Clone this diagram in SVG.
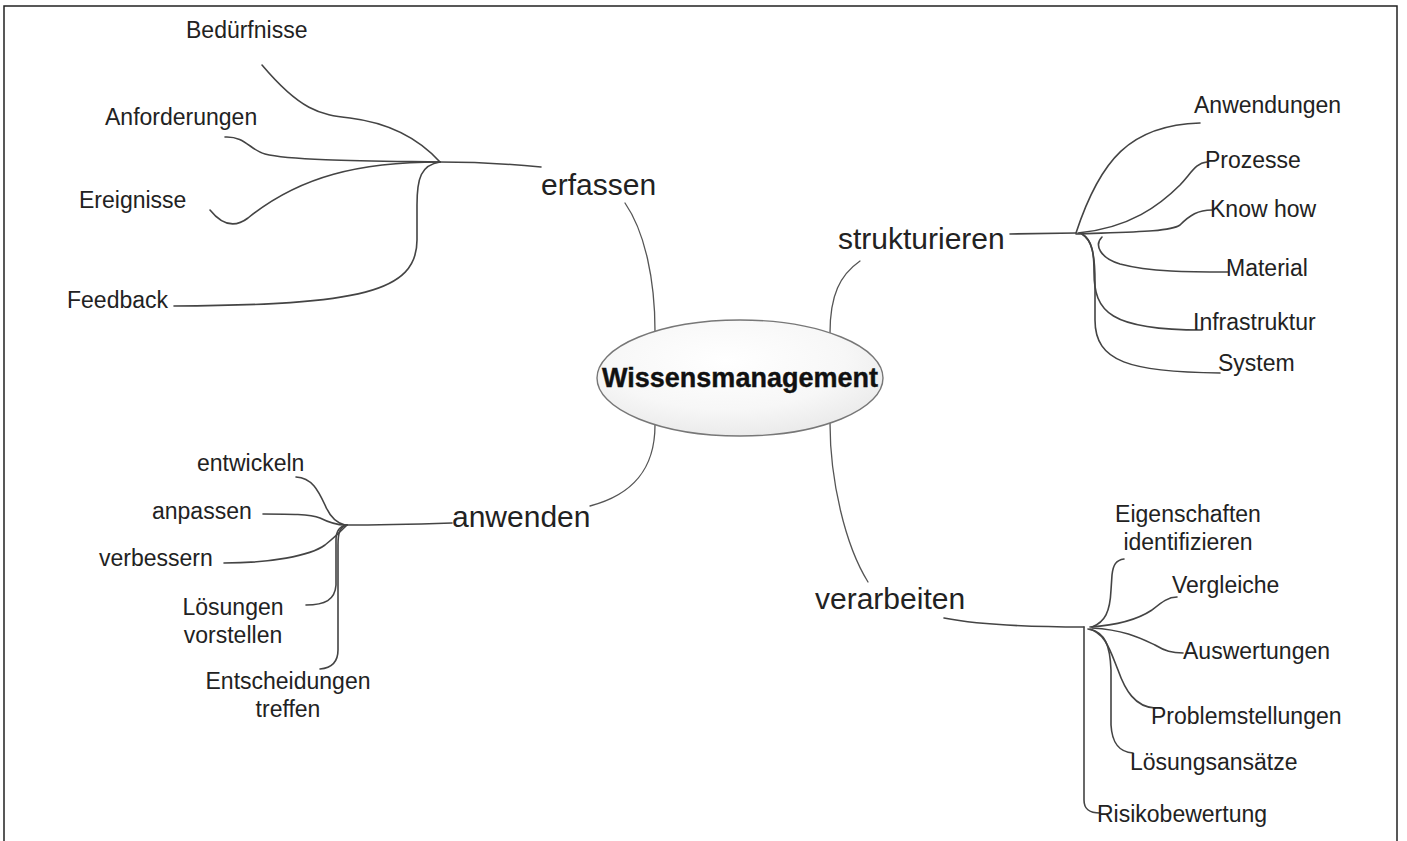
<svg xmlns="http://www.w3.org/2000/svg" width="1407" height="841" viewBox="0 0 1407 841">
<style>
text{font-family:"Liberation Sans",Arial,sans-serif;fill:#222}
.lbl{font-size:23px}
.br{font-size:30px}
.ctr{font-size:27px;font-weight:bold;fill:#111}
.c{fill:none;stroke:#444;stroke-width:1.6;stroke-linecap:round}
.m{fill:none;stroke:#555;stroke-width:1.3;stroke-linecap:round}
</style>
<defs>
<radialGradient id="eg" cx="0.45" cy="0.35" r="0.7">
<stop offset="0" stop-color="#ffffff"/>
<stop offset="0.6" stop-color="#f7f7f7"/>
<stop offset="1" stop-color="#e8e8e8"/>
</radialGradient>
</defs>
<rect width="1407" height="841" fill="#fff"/>
<path d="M4,841 L4,6 L1397,6 L1397,841" fill="none" stroke="#222" stroke-width="1.5"/>

<g id="connectors">
<path class="m" d="M625,203 C645,232 655,280 655,331"/>
<path class="m" d="M860,261 C840,275 830,295 830,333"/>
<path class="m" d="M590,506 C632,495 655,470 655,425"/>
<path class="m" d="M830,423 C830,480 845,545 868,582"/>
<path class="c" d="M541,167 C510,164 480,162 440,162"/>
<path class="c" d="M262,65 C300,110 320,115 350,118 C390,123 420,140 440,162"/>
<path class="c" d="M225,137 C245,136 250,150 265,154 C292,161 380,161 440,162"/>
<path class="c" d="M210,210 C222,225 235,228 248,218 C300,176 360,162 440,162"/>
<path class="c" d="M440,162 C421,165 417,178 417,205 L417,240 C417,292 360,305 174,306"/>
<path class="c" d="M1010,234 L1076,233"/>
<path class="c" d="M1076,233 C1100,160 1130,125 1200,123"/>
<path class="c" d="M1078,233 C1130,228 1160,205 1180,185 C1192,172 1196,163 1207,162"/>
<path class="c" d="M1076,234 C1130,232 1170,232 1180,225 C1190,215 1198,210 1212,210"/>
<path class="c" d="M1102,237 C1094,245 1100,258 1120,264 C1150,272 1190,272 1228,272"/>
<path class="c" d="M1082,234 C1092,240 1094,252 1094,272 C1094,312 1110,330 1202,330"/>
<path class="c" d="M1082,234 C1092,240 1095,255 1095,282 L1095,320 C1095,362 1130,372 1220,373"/>
<path class="c" d="M452,523 C420,524 370,525 345,525"/>
<path class="c" d="M296,477 C312,478 318,490 325,505 C330,517 336,523 345,525"/>
<path class="c" d="M263,514 C290,514 310,514 320,518 C330,523 338,525 345,525"/>
<path class="c" d="M224,563 C270,563 310,556 325,545 C335,537 342,530 347,525"/>
<path class="c" d="M306,605 C325,605 335,600 336,585 L336,540 C336,530 340,526 347,525"/>
<path class="c" d="M347,525 C340,527 338,532 338,545 L338,650 C338,662 332,668 320,669"/>
<path class="c" d="M944,618 C980,625 1030,627 1084,627"/>
<path class="c" d="M1092,627 C1105,622 1110,612 1111,590 L1112,575 C1113,565 1116,560 1124,559"/>
<path class="c" d="M1090,627 C1120,625 1140,618 1152,610 C1162,602 1168,597 1177,597"/>
<path class="c" d="M1092,628 C1125,630 1140,638 1155,645 C1165,651 1172,653 1183,653"/>
<path class="c" d="M1088,629 C1105,632 1110,650 1118,670 C1125,690 1135,707 1155,708"/>
<path class="c" d="M1090,629 C1105,633 1110,645 1111,670 L1111,725 C1112,742 1118,752 1133,753"/>
<path class="c" d="M1084,627 L1084,800 C1084,810 1090,813 1100,813"/>
</g>

<g id="center">
<ellipse cx="740" cy="378" rx="143" ry="58" fill="url(#eg)" stroke="#777" stroke-width="1.4"/>
<text class="ctr" x="740" y="387" text-anchor="middle" stroke="#111" stroke-width="0.4">Wissensmanagement</text>
</g>

<g id="erfassen"><text class="br" x="541" y="195">erfassen</text></g>
<g id="beduerfnisse"><text class="lbl" x="186" y="38">Bedürfnisse</text></g>
<g id="anforderungen"><text class="lbl" x="105" y="125">Anforderungen</text></g>
<g id="ereignisse"><text class="lbl" x="79" y="208">Ereignisse</text></g>
<g id="feedback"><text class="lbl" x="67" y="308">Feedback</text></g>

<g id="strukturieren"><text class="br" x="838" y="249">strukturieren</text></g>
<g id="anwendungen"><text class="lbl" x="1194" y="113">Anwendungen</text></g>
<g id="prozesse"><text class="lbl" x="1205" y="168">Prozesse</text></g>
<g id="knowhow"><text class="lbl" x="1210" y="217">Know how</text></g>
<g id="material"><text class="lbl" x="1226" y="276">Material</text></g>
<g id="infrastruktur"><text class="lbl" x="1193" y="330">Infrastruktur</text></g>
<g id="system"><text class="lbl" x="1218" y="371">System</text></g>

<g id="anwenden"><text class="br" x="452" y="527">anwenden</text></g>
<g id="entwickeln"><text class="lbl" x="197" y="471">entwickeln</text></g>
<g id="anpassen"><text class="lbl" x="152" y="519">anpassen</text></g>
<g id="verbessern"><text class="lbl" x="99" y="566">verbessern</text></g>
<g id="loesungen"><text class="lbl" text-anchor="middle"><tspan x="233" y="615">Lösungen</tspan><tspan x="233" y="643">vorstellen</tspan></text></g>
<g id="entscheidungen"><text class="lbl" text-anchor="middle"><tspan x="288" y="689">Entscheidungen</tspan><tspan x="288" y="717">treffen</tspan></text></g>

<g id="verarbeiten"><text class="br" x="815" y="609">verarbeiten</text></g>
<g id="eigenschaften"><text class="lbl" text-anchor="middle"><tspan x="1188" y="522">Eigenschaften</tspan><tspan x="1188" y="550">identifizieren</tspan></text></g>
<g id="vergleiche"><text class="lbl" x="1172" y="593">Vergleiche</text></g>
<g id="auswertungen"><text class="lbl" x="1183" y="659">Auswertungen</text></g>
<g id="problemstellungen"><text class="lbl" x="1151" y="724">Problemstellungen</text></g>
<g id="loesungsansaetze"><text class="lbl" x="1130" y="770">Lösungsansätze</text></g>
<g id="risikobewertung"><text class="lbl" x="1097" y="822">Risikobewertung</text></g>
</svg>
